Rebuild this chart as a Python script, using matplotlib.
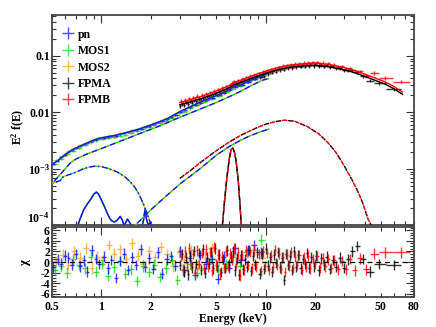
import numpy as np
import matplotlib
matplotlib.use("Agg")
import matplotlib.pyplot as plt
from matplotlib.ticker import FixedLocator, FixedFormatter, NullFormatter
from matplotlib.lines import Line2D

plt.rcParams['font.family'] = ['Liberation Serif', 'DejaVu Serif']
plt.rcParams['font.weight'] = 'bold'
plt.rcParams['mathtext.fontset'] = 'custom'
plt.rcParams['mathtext.rm'] = 'Liberation Serif:bold'
plt.rcParams['mathtext.it'] = 'Liberation Serif:italic:bold'
plt.rcParams['mathtext.bf'] = 'Liberation Serif:bold'

# ---------------- data ----------------
labels = ['pn', 'MOS1', 'MOS2', 'FPMA', 'FPMB']
colors = {'pn': '#1010ff', 'MOS1': '#10dd10', 'MOS2': '#ffa520', 'FPMA': '#000000', 'FPMB': '#ff0000'}

pn_E = [0.51, 0.54, 0.57, 0.60, 0.63, 0.66, 0.70, 0.74, 0.78, 0.82, 0.87, 0.92, 0.97, 1.03, 1.09, 1.15,
        1.22, 1.29, 1.37, 1.45, 1.54, 1.63, 1.73, 1.84, 1.95, 2.07, 2.2, 2.34, 2.49, 2.65, 2.82, 3.0,
        3.2, 3.45, 3.7, 4.0, 4.35, 4.7, 5.1, 5.55, 6.0, 6.5, 7.1, 7.8, 8.5, 9.3]
pn_V = [1.25e-3, 1.38e-3, 1.60e-3, 1.78e-3, 2.02e-3, 2.15e-3, 2.38e-3, 2.50e-3, 2.75e-3, 2.85e-3,
        3.15e-3, 3.30e-3, 3.50e-3, 3.60e-3, 3.72e-3, 3.85e-3, 3.88e-3, 4.10e-3, 4.25e-3, 4.55e-3,
        4.70e-3, 4.95e-3, 5.15e-3, 5.55e-3, 5.80e-3, 6.20e-3, 6.65e-3, 7.05e-3, 7.65e-3, 8.30e-3,
        9.20e-3, 0.0101, 0.0111, 0.0124, 0.0136, 0.0150, 0.0168, 0.0182, 0.0200, 0.0222, 0.0252,
        0.0285, 0.0310, 0.0350, 0.0395, 0.0430]
pn_chi = [-1.0, 0.5, -0.3, 1.2, 0.8, -0.5, 1.5, -0.8, 0.3, -1.8, 2.2, 0.6, -0.4, 1.0, -1.2, 0.4,
          -3.0, 0.2, 1.6, -1.5, 0.9, -0.6, 2.4, -0.9, 0.7, -1.3, 1.8, -2.2, 0.5, 1.1, -0.7, 2.0,
          -1.6, 0.8, -2.4, 1.3, -0.3, 0.6, -3.2, 1.0, -1.1, 2.6, 0.3, 2.2, 3.2, 1.8]

mos1_E = [0.52, 0.57, 0.62, 0.67, 0.73, 0.79, 0.86, 0.93, 1.01, 1.1, 1.19, 1.29, 1.4, 1.52, 1.65, 1.79,
          1.94, 2.1, 2.28, 2.47, 2.68, 2.9, 3.15, 3.45, 3.8, 4.2, 4.65, 5.15, 5.7, 6.3, 6.95, 7.7, 8.5, 9.4]
mos1_V = [1.22e-3, 1.52e-3, 1.85e-3, 2.10e-3, 2.38e-3, 2.65e-3, 2.95e-3, 3.20e-3, 3.40e-3, 3.55e-3,
          3.70e-3, 3.85e-3, 4.05e-3, 4.35e-3, 4.70e-3, 5.10e-3, 5.50e-3, 6.00e-3, 6.60e-3, 7.20e-3,
          8.00e-3, 8.90e-3, 0.0102, 0.0118, 0.0135, 0.0155, 0.0175, 0.0198, 0.0228, 0.0265, 0.0295,
          0.0345, 0.0395, 0.0445]
mos1_chi = [-1.5, -0.8, -2.0, 0.5, -0.6, -1.2, 1.0, -1.8, -0.4, -2.6, -1.0, 0.2, -2.2, -1.4, -3.6, -0.8,
            -1.9, -0.5, -2.8, -1.2, 0.4, -3.4, -1.6, -0.3, -2.0, -1.1, 0.6, -1.5, -0.4, 0.9, -0.7, 1.8,
            2.2, 4.2]

mos2_E = [0.53, 0.58, 0.63, 0.68, 0.74, 0.8, 0.87, 0.94, 1.02, 1.11, 1.2, 1.3, 1.41, 1.53, 1.66, 1.8,
          1.95, 2.12, 2.3, 2.5, 2.72, 2.95, 3.2, 3.5, 3.85, 4.25, 4.7, 5.2, 5.75, 6.35, 7.0, 7.75, 8.6, 9.5]
mos2_V = [1.42e-3, 1.72e-3, 2.05e-3, 2.35e-3, 2.62e-3, 2.90e-3, 3.25e-3, 3.50e-3, 3.70e-3, 3.90e-3,
          4.05e-3, 4.25e-3, 4.50e-3, 4.80e-3, 5.10e-3, 5.55e-3, 6.00e-3, 6.55e-3, 7.10e-3, 7.70e-3,
          8.50e-3, 9.60e-3, 0.0108, 0.0124, 0.0140, 0.0160, 0.0180, 0.0205, 0.0232, 0.0280, 0.0305,
          0.0350, 0.0400, 0.0440]
mos2_chi = [0.2, 1.4, -0.5, 2.0, 0.8, 2.6, -1.2, 1.0, 0.3, 3.2, 1.6, 2.4, 0.6, 3.5, 1.2, -0.4,
            2.0, 0.9, 2.8, 1.5, -0.8, 1.8, 0.4, 2.2, -0.6, 1.0, 2.6, 0.2, -0.9, 1.4, 0.6, 2.0, -0.3, 0.8]

fpma_E = [3.02, 3.11, 3.2, 3.29, 3.38, 3.48, 3.58, 3.68, 3.79, 3.9,
          4.01, 4.13, 4.25, 4.37, 4.5, 4.63, 4.76, 4.9, 5.04, 5.19,
          5.34, 5.49, 5.65, 5.81, 5.98, 6.15, 6.33, 6.51, 6.7, 6.9,
          7.1, 7.3, 7.51, 7.73, 7.95, 8.18, 8.42, 8.66, 8.91, 9.17,
          9.44, 9.71, 9.99, 10.3, 10.6, 10.9, 11.2, 11.5, 11.9, 12.2,
          12.6, 12.9, 13.3, 13.7, 14.1, 14.5, 14.9, 15.4, 15.8, 16.3,
          16.8, 17.3, 17.8, 18.4, 19.0, 19.6, 20.3, 21.0, 21.8, 22.6,
          23.5, 24.5, 25.6, 26.8, 28.2, 29.8, 31.6, 33.6, 36.0, 39.0,
          43.0, 49.0, 60.0]
fpma_V = [0.0130, 0.0142, 0.0135, 0.0150, 0.0141, 0.0156, 0.0150, 0.0165, 0.0158, 0.0172,
          0.0168, 0.0182, 0.0172, 0.0192, 0.0188, 0.0198, 0.0195, 0.0215, 0.0208, 0.0230,
          0.0220, 0.0245, 0.0238, 0.0262, 0.0258, 0.0290, 0.0318, 0.0305, 0.0325, 0.0318,
          0.0350, 0.0335, 0.0368, 0.0355, 0.0395, 0.0380, 0.0415, 0.0400, 0.0438, 0.0425,
          0.0462, 0.0445, 0.0500, 0.0478, 0.0525, 0.0505, 0.0555, 0.0530, 0.0580, 0.0560,
          0.0600, 0.0575, 0.0625, 0.0600, 0.0650, 0.0615, 0.0665, 0.0630, 0.0680, 0.0645,
          0.0690, 0.0650, 0.0700, 0.0660, 0.0705, 0.0665, 0.0705, 0.0660, 0.0695, 0.0650,
          0.0680, 0.0635, 0.0655, 0.0600, 0.0615, 0.0555, 0.0570, 0.0560, 0.0520, 0.0440,
          0.0365, 0.0330, 0.0255]
fpma_chi = [-0.6, 1.5, -1.8, 0.9, -2.3, 1.2, -1.0, 2.1, -0.4, 1.7,
            -1.5, 2.4, -2.0, 0.8, -0.3, 1.9, -1.2, 2.6, -0.8, 1.4,
            -1.9, 0.6, -1.1, 2.2, -0.5, 1.0, 2.0, -1.6, 0.7, -2.4,
            1.3, -1.4, 0.5, -0.9, 2.3, -1.7, 1.1, -0.6, 1.8, -2.2,
            1.6, -1.3, 2.5, -0.7, 0.9, -1.8, 1.4, -0.2, 1.9, -1.0,
            0.8, -3.4, 1.5, -0.6, 1.2, -1.5, 2.0, -0.9, 1.3, -1.2,
            0.6, -0.4, 1.7, -1.1, 0.9, -0.8, 1.2, -1.6, 0.7, -0.5,
            1.0, -1.3, 0.4, -0.9, 0.8, -1.1, 0.5, 2.0, 3.0, 0.6,
            -1.8, -0.4, -0.6]

fpmb_E = [3.06, 3.15, 3.24, 3.33, 3.43, 3.53, 3.63, 3.73, 3.84, 3.95,
          4.07, 4.19, 4.31, 4.43, 4.56, 4.69, 4.83, 4.97, 5.11, 5.26,
          5.41, 5.57, 5.73, 5.9, 6.07, 6.24, 6.42, 6.61, 6.8, 7.0,
          7.2, 7.4, 7.62, 7.84, 8.06, 8.3, 8.54, 8.78, 9.04, 9.3,
          9.57, 9.85, 10.15, 10.45, 10.75, 11.05, 11.35, 11.7, 12.05, 12.4,
          12.75, 13.1, 13.5, 13.9, 14.3, 14.7, 15.15, 15.6, 16.05, 16.55,
          17.05, 17.55, 18.1, 18.7, 19.3, 19.95, 20.65, 21.4, 22.2, 23.05,
          24.0, 25.05, 26.2, 27.5, 29.0, 30.7, 32.6, 34.8, 37.5, 41.0,
          45.5, 53.0, 67.0]
fpmb_V = [0.0160, 0.0148, 0.0168, 0.0155, 0.0178, 0.0165, 0.0185, 0.0172, 0.0195, 0.0182,
          0.0205, 0.0190, 0.0215, 0.0200, 0.0228, 0.0215, 0.0242, 0.0228, 0.0258, 0.0240,
          0.0272, 0.0258, 0.0290, 0.0275, 0.0312, 0.0330, 0.0355, 0.0342, 0.0372, 0.0355,
          0.0395, 0.0375, 0.0418, 0.0398, 0.0442, 0.0425, 0.0468, 0.0445, 0.0492, 0.0470,
          0.0520, 0.0498, 0.0552, 0.0530, 0.0580, 0.0555, 0.0605, 0.0578, 0.0632, 0.0605,
          0.0660, 0.0628, 0.0685, 0.0650, 0.0705, 0.0665, 0.0720, 0.0685, 0.0735, 0.0700,
          0.0750, 0.0712, 0.0765, 0.0720, 0.0770, 0.0730, 0.0775, 0.0725, 0.0760, 0.0705,
          0.0740, 0.0680, 0.0705, 0.0640, 0.0655, 0.0585, 0.0600, 0.0530, 0.0535, 0.0440,
          0.0500, 0.0410, 0.0350]
fpmb_chi = [1.2, -1.4, 2.0, -0.9, 2.6, -0.6, 1.5, -1.8, 2.2, -0.4,
            1.7, -1.3, 2.4, -0.8, 1.9, -1.6, 2.8, -0.5, 1.4, -2.2,
            1.0, -1.1, 2.1, -0.7, 1.6, 0.4, 2.5, -0.3, 1.8, -2.6,
            1.3, -1.5, 2.2, -0.6, 1.9, -1.2, 2.4, -0.9, 1.5, -1.7,
            2.0, -0.8, 1.7, -1.4, 1.2, -1.0, 2.3, -0.5, 1.6, -1.3,
            0.9, -1.9, 1.4, -0.7, 1.8, -1.1, 1.0, -0.6, 1.3, -1.5,
            0.8, -0.9, 1.2, -1.2, 0.6, -0.4, 1.1, -1.0, 0.7, -0.8,
            0.5, -1.1, 0.3, -1.4, 0.2, -1.4, 0.6, -1.6, 0.7, -1.4,
            1.6, 1.8, 1.8]

# model curves
xmm_tot_E = [0.5, 0.55, 0.6, 0.65, 0.7, 0.8, 0.9, 1.0, 1.1, 1.2, 1.4, 1.7, 2.0, 2.5, 3.0, 4.0, 5.0,
             6.0, 6.4, 7.0, 8.0, 9.0, 10.0]
xmm_tot_V = [1.2e-3, 1.45e-3, 1.8e-3, 2.1e-3, 2.35e-3, 2.8e-3, 3.25e-3, 3.55e-3, 3.75e-3, 3.9e-3,
             4.35e-3, 5.1e-3, 6.0e-3, 7.7e-3, 0.0103, 0.0153, 0.0198, 0.0250, 0.0285, 0.0305, 0.0365,
             0.042, 0.047]
nu_tot_E = [3.0, 4.0, 5.0, 6.0, 6.4, 7.0, 8.0, 10.0, 12.0, 14.0, 17.0, 20.0, 24.0, 28.0, 33.0, 37.0,
            45.0, 53.0, 60.0, 68.0]
fpmb_tot_V = [0.0150, 0.0190, 0.0240, 0.0300, 0.0340, 0.0370, 0.0430, 0.0540, 0.0630, 0.0690,
              0.0730, 0.0750, 0.0710, 0.0650, 0.0580, 0.0520, 0.0420, 0.0350, 0.0290, 0.0230]
fpma_tot_V = [0.0137, 0.0173, 0.0219, 0.0274, 0.0310, 0.0338, 0.0392, 0.0493, 0.0575, 0.0630,
              0.0666, 0.0684, 0.0648, 0.0593, 0.0529, 0.0474, 0.0383, 0.0319, 0.0265, 0.0210]

bb_E = [0.5, 0.53, 0.56, 0.58, 0.6, 0.65, 0.7, 0.76, 0.83, 0.91, 1.0, 1.1, 1.2, 1.3, 1.4, 1.5, 1.6,
        1.7, 1.8, 1.9, 2.0, 2.05]
bb_V = [5.6e-4, 5.9e-4, 6.2e-4, 7.1e-4, 7.5e-4, 8.1e-4, 8.8e-4, 9.8e-4, 1.07e-3, 1.12e-3, 1.1e-3,
        1.02e-3, 9.3e-4, 8.3e-4, 7.1e-4, 5.9e-4, 4.7e-4, 3.5e-4, 2.4e-4, 1.6e-4, 1.05e-4, 8e-5]

ap_E = [0.7, 0.74, 0.78, 0.82, 0.86, 0.9, 0.93, 0.96, 1.0, 1.04, 1.08, 1.12, 1.16, 1.2, 1.25, 1.3,
        1.34, 1.37, 1.4, 1.44, 1.48, 1.52, 1.56, 1.62, 1.68, 1.74, 1.8, 1.84, 1.88, 1.93, 1.98, 2.03, 2.1]
ap_V = [8e-5, 1.3e-4, 1.9e-4, 2.4e-4, 2.9e-4, 3.6e-4, 3.9e-4, 3.6e-4, 2.8e-4, 2.2e-4, 1.7e-4, 1.35e-4,
        1.2e-4, 1.15e-4, 1.25e-4, 1.45e-4, 1.25e-4, 1.0e-4, 1.1e-4, 1.3e-4, 1.15e-4, 1.0e-4, 9e-5,
        8e-5, 8e-5, 8.5e-5, 1.2e-4, 1.9e-4, 1.3e-4, 1.0e-4, 1.15e-4, 9e-5, 7e-5]

pl_E = [0.5, 0.55, 0.6, 0.65, 0.7, 0.8, 1.0, 1.3, 1.7, 2.2, 3.0, 4.0, 5.0, 6.0, 7.0, 8.0, 9.5, 10.5]
pl_V = [5.5e-4, 7.5e-4, 1.0e-3, 1.3e-3, 1.5e-3, 1.8e-3, 2.3e-3, 3.1e-3, 4.2e-3, 5.6e-3, 8.2e-3,
        0.0115, 0.015, 0.019, 0.0235, 0.029, 0.037, 0.040]

refl_xmm_E = [1.6, 2.0, 2.5, 3.0, 3.5, 4.0, 5.0, 6.0, 7.0, 8.0, 9.0, 10.5]
refl_xmm_V = [1.0e-4, 1.9e-4, 3.4e-4, 5.4e-4, 7.6e-4, 1.02e-3, 1.75e-3, 2.5e-3, 3.2e-3, 3.85e-3,
              4.4e-3, 5.1e-3]
refl_nu_E = [3.0, 3.5, 4.0, 5.0, 6.0, 7.0, 8.0, 9.0, 10.0, 11.5, 13.0, 15.0, 18.0, 21.0, 24.0, 27.0,
             30.0, 33.0, 36.0, 39.0, 42.0, 44.0]
refl_nu_V = [6.8e-4, 9.5e-4, 1.3e-3, 2.1e-3, 3.0e-3, 3.9e-3, 4.7e-3, 5.5e-3, 6.2e-3, 6.9e-3, 7.3e-3,
             7.0e-3, 5.6e-3, 4.2e-3, 2.9e-3, 1.9e-3, 1.15e-3, 7e-4, 4.3e-4, 2.5e-4, 1.3e-4, 1.0e-4]

gau_E = [5.45, 5.6, 5.8, 6.0, 6.15, 6.3, 6.45, 6.6, 6.8, 7.0, 7.1]
gau_V = [1e-4, 2.5e-4, 7e-4, 1.5e-3, 2.2e-3, 2.35e-3, 2.0e-3, 1.4e-3, 6.5e-4, 2.0e-4, 1.0e-4]

xtick_major = [1, 10]
xtick_minor = [0.5, 0.6, 0.7, 0.8, 0.9, 2, 3, 4, 5, 6, 7, 8, 9, 20, 30, 40, 50, 60, 70, 80]
xtick_minor_labels = ['0.5', '', '', '', '', '2', '', '', '5', '', '', '', '', '20', '', '', '50', '', '', '80']

# ---------------- figure ----------------
fig = plt.figure(figsize=(4.36, 3.27), dpi=100)
ax = fig.add_axes([0.1193, 0.3104, 0.8303, 0.6437])
axr = fig.add_axes([0.1193, 0.0917, 0.8303, 0.2141])

def xerrs(E):
    E = np.asarray(E, float)
    mids = np.sqrt(E[1:] * E[:-1])
    lo_edge = np.concatenate([[E[0] ** 2 / mids[0]], mids])
    hi_edge = np.concatenate([mids, [E[-1] ** 2 / mids[-1]]])
    return [E - lo_edge, hi_edge - E]

datasets = [('MOS2', mos2_E, mos2_V, mos2_chi, 0.045),
            ('MOS1', mos1_E, mos1_V, mos1_chi, 0.045),
            ('pn', pn_E, pn_V, pn_chi, 0.04),
            ('FPMA', fpma_E, fpma_V, fpma_chi, 0.07),
            ('FPMB', fpmb_E, fpmb_V, fpmb_chi, 0.07)]

for name, E, V, chi, frac in datasets:
    c = colors[name]
    E = np.asarray(E); V = np.asarray(V)
    ax.errorbar(E, V, xerr=xerrs(E), yerr=frac * V, fmt='none', ecolor=c,
                elinewidth=1.0, alpha=0.8, zorder=2)
    axr.errorbar(E, chi, xerr=xerrs(E), yerr=1.0, fmt='none', ecolor=c,
                 elinewidth=1.0, alpha=0.8, zorder=2)

# model totals
for c in [colors['MOS2'], colors['MOS1'], colors['pn']]:
    ax.plot(xmm_tot_E, xmm_tot_V, color=c, lw=1.0, zorder=3)
ax.plot(nu_tot_E, fpma_tot_V, color='k', lw=1.0, zorder=3)
ax.plot(nu_tot_E, fpmb_tot_V, color='r', lw=1.0, zorder=3)

def multi(E, V, cols, pattern, lw=1.0):
    n = len(cols)
    period = sum(pattern)
    for i, c in enumerate(cols):
        ax.plot(E, V, color=c, lw=lw, linestyle=(i * period / n, pattern), zorder=4)

xmm_cols = [colors['MOS2'], colors['MOS1'], colors['pn']]
nu_cols = ['k', 'r']
multi(bb_E, bb_V, xmm_cols, (4, 2, 1, 2))
for c in xmm_cols:
    ax.plot(ap_E, ap_V, color=c, lw=1.0, zorder=4)
multi(pl_E, pl_V, xmm_cols, (4, 3))
multi(refl_xmm_E, refl_xmm_V, xmm_cols, (4, 3))
multi(refl_nu_E, refl_nu_V, nu_cols, (4, 2, 1, 2))
multi(gau_E, gau_V, xmm_cols, (4, 3))
multi(gau_E, gau_V, nu_cols, (4, 3))

axr.axhline(0, color='k', lw=0.9, ls=(0, (4, 3)), zorder=5)

# axes formatting
for a in (ax, axr):
    a.set_xscale('log')
    a.set_xlim(0.5, 80)
    a.xaxis.set_major_locator(FixedLocator(xtick_major))
    a.xaxis.set_minor_locator(FixedLocator(xtick_minor))
ax.set_yscale('log')
ax.set_ylim(1e-4, 0.53)
axr.set_ylim(-6.6, 6.6)

ax.xaxis.set_major_formatter(NullFormatter())
ax.xaxis.set_minor_formatter(NullFormatter())
axr.xaxis.set_major_formatter(FixedFormatter(['1', '10']))
axr.xaxis.set_minor_formatter(FixedFormatter(xtick_minor_labels))

ax.yaxis.set_major_locator(FixedLocator([1e-4, 1e-3, 1e-2, 1e-1]))
ax.yaxis.set_major_formatter(FixedFormatter(['10$^{-4}$', '10$^{-3}$', '0.01', '0.1']))
ax.yaxis.set_minor_locator(FixedLocator([m * 10.0 ** d for d in range(-4, 0) for m in range(2, 10)]))
ax.yaxis.set_minor_formatter(NullFormatter())

axr.yaxis.set_major_locator(FixedLocator([-6, -4, -2, 0, 2, 4, 6]))
axr.yaxis.set_major_formatter(FixedFormatter(['-6', '-4', '-2', '0', '2', '4', '6']))
axr.yaxis.set_minor_locator(FixedLocator(np.arange(-6.5, 6.6, 0.5)))

for a in (ax, axr):
    a.tick_params(which='both', direction='in', top=True, right=True, labelsize=8.5,
                  width=0.8, color='#333333')
    a.tick_params(which='major', length=6)
    a.tick_params(which='minor', length=3)
    for s in a.spines.values():
        s.set_linewidth(1.3)
        s.set_color('#444444')
ax.tick_params(axis='y', pad=1.5)
axr.tick_params(axis='y', pad=1.5)
axr.tick_params(axis='x', which='both', pad=3)

# lowest label of the top panel sits just above the axis bottom
fig.canvas.draw()
for t in ax.yaxis.get_majorticklabels():
    if '-4' in t.get_text():
        t.set_va('bottom')

ax.set_ylabel('E$^{2}$ f(E)', fontsize=8.5, fontweight='bold')
ax.yaxis.set_label_coords(-0.068, 0.47)
axr.set_ylabel('χ', fontsize=9, fontweight='bold')
axr.yaxis.set_label_coords(-0.058, 0.5)
axr.set_xlabel('Energy (keV)', fontsize=8.5, fontweight='bold', labelpad=0)

handles = [Line2D([], [], color=colors[n], marker='+', ls='none', markersize=8, mew=1.0, alpha=0.75)
           for n in labels]
ax.legend(handles, labels, loc='upper left', bbox_to_anchor=(0.005, 0.975), frameon=False,
          fontsize=8.5, handlelength=1.0, handletextpad=0.3, labelspacing=0.38, borderpad=0.2)

fig.savefig('out.png', dpi=100)
